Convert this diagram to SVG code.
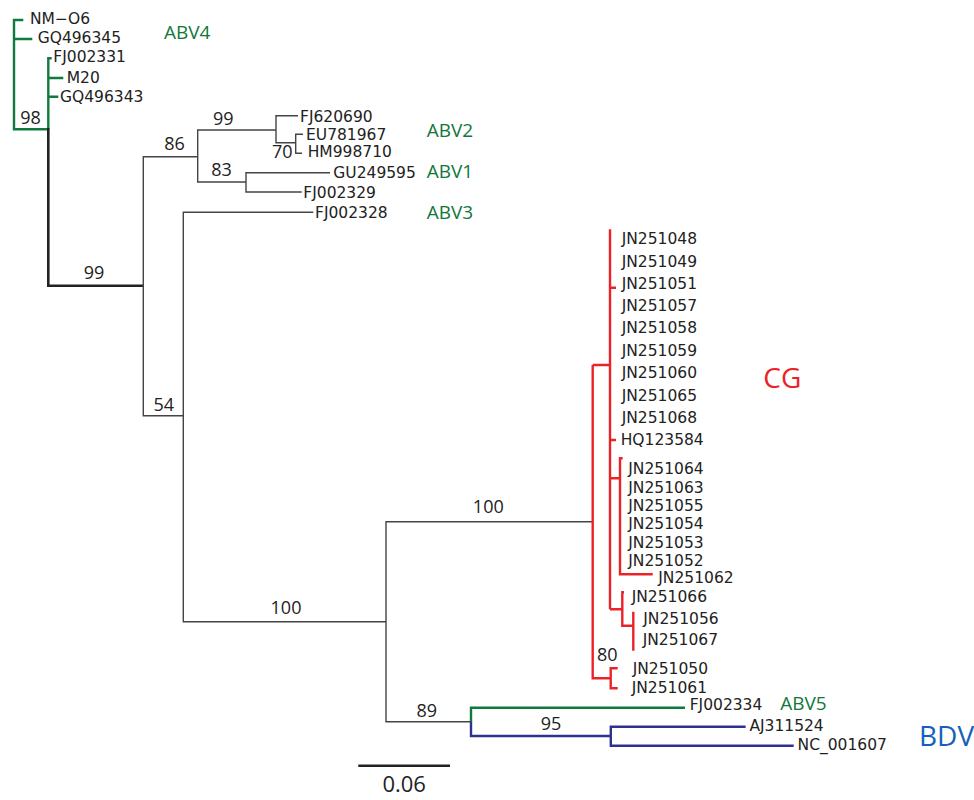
<svg xmlns="http://www.w3.org/2000/svg" width="974" height="800" viewBox="0 0 974 800">
<style>
.bg{fill:#fff}
.t{font-family:"DejaVu Sans",Verdana,sans-serif;font-size:15.5px;fill:#222}
.n{font-family:"Open Sans","Liberation Sans",sans-serif;font-size:18px;fill:#222;text-anchor:middle}
.g{font-family:"Open Sans","Liberation Sans",sans-serif;font-size:19px;fill:#12773b}
.k{fill:none;stroke:#444;stroke-width:1.4}
.kk{fill:none;stroke:#222;stroke-width:2.6}
.gr{fill:none;stroke:#0f7a3c;stroke-width:2.4}
.rd{fill:none;stroke:#ec2229;stroke-width:2.4}
.bl{fill:none;stroke:#2e3192;stroke-width:2.4}
</style>
<rect class="bg" x="0" y="0" width="974" height="800"/>
<g id="connectors">
<path class="gr" d="M23.3,20H14V129.3H48.3M14,39H32.3M51.7,58.3H48.3V129.3M48.3,78H63.3M48.3,96.7H58.3"/>
<path class="kk" d="M48.3,128V285.7H143.3"/>
<path class="k" d="M143.3,285.7V156.7H197.7M143.3,285.7V415.7H183.3"/>
<path class="k" d="M276,130H197.7V182H246M298,115.7H276V142.7H295.7M303,134.3H295.7V153.3H302"/>
<path class="k" d="M330,172.7H246V192H301.7"/>
<path class="k" d="M313.3,212.3H183.3V621.7H386M592.7,521.7H386V721.7H471"/>
<path class="gr" d="M471,722V707.7H685"/>
<path class="bl" d="M471,721.7V736H610.8M745.6,726.7H610.8V745.7H793.7"/>
<path class="rd" d="M610,229.3V609.3M592.7,365H610M610,287.7H616M610,440H616"/>
<path class="rd" d="M610,478.3H620M622.7,458.3H620V574.3H652.7"/>
<path class="rd" d="M610,609.3H622.3M624,592.3H622.3V625.7H633.3M633.3,611.7V650.7"/>
<path class="rd" d="M592.7,365V678.3H610.7M617.7,668.3H610.7V688.3H617.7"/>
<path class="kk" d="M358.3,765.7H450" stroke-width="3"/>
</g>
<g id="leaf-NM-O6"><text class="t" x="30" y="24">NM−O6</text></g>
<g id="leaf-GQ496345"><text class="t" x="37.7" y="43.3">GQ496345</text></g>
<g id="leaf-FJ002331"><text class="t" x="53.3" y="62.3">FJ002331</text></g>
<g id="leaf-M20"><text class="t" x="66.7" y="82.7">M20</text></g>
<g id="leaf-GQ496343"><text class="t" x="60" y="101.7">GQ496343</text></g>
<g id="leaf-FJ620690"><text class="t" x="300" y="121.7">FJ620690</text></g>
<g id="leaf-EU781967"><text class="t" x="306" y="140">EU781967</text></g>
<g id="leaf-HM998710"><text class="t" x="307.7" y="156.7">HM998710</text></g>
<g id="leaf-GU249595"><text class="t" x="333.3" y="177.7">GU249595</text></g>
<g id="leaf-FJ002329"><text class="t" x="303.3" y="197.7">FJ002329</text></g>
<g id="leaf-FJ002328"><text class="t" x="315" y="218.3">FJ002328</text></g>
<g id="leaf-JN251048"><text class="t" x="621.7" y="244.3">JN251048</text></g>
<g id="leaf-JN251049"><text class="t" x="621.7" y="266.7">JN251049</text></g>
<g id="leaf-JN251051"><text class="t" x="621.7" y="288.7">JN251051</text></g>
<g id="leaf-JN251057"><text class="t" x="621.7" y="311">JN251057</text></g>
<g id="leaf-JN251058"><text class="t" x="621.7" y="333.3">JN251058</text></g>
<g id="leaf-JN251059"><text class="t" x="621.7" y="356">JN251059</text></g>
<g id="leaf-JN251060"><text class="t" x="621.7" y="378.3">JN251060</text></g>
<g id="leaf-JN251065"><text class="t" x="621.7" y="401">JN251065</text></g>
<g id="leaf-JN251068"><text class="t" x="621.7" y="423.3">JN251068</text></g>
<g id="leaf-HQ123584"><text class="t" x="620.7" y="445.3">HQ123584</text></g>
<g id="leaf-JN251064"><text class="t" x="628.3" y="474.3">JN251064</text></g>
<g id="leaf-JN251063"><text class="t" x="628.3" y="492.7">JN251063</text></g>
<g id="leaf-JN251055"><text class="t" x="628.3" y="511">JN251055</text></g>
<g id="leaf-JN251054"><text class="t" x="628.3" y="529.3">JN251054</text></g>
<g id="leaf-JN251053"><text class="t" x="628.3" y="547.7">JN251053</text></g>
<g id="leaf-JN251052"><text class="t" x="628.3" y="566">JN251052</text></g>
<g id="leaf-JN251062"><text class="t" x="658.3" y="582.7">JN251062</text></g>
<g id="leaf-JN251066"><text class="t" x="631.7" y="602">JN251066</text></g>
<g id="leaf-JN251056"><text class="t" x="643.3" y="624.3">JN251056</text></g>
<g id="leaf-JN251067"><text class="t" x="642.7" y="645.3">JN251067</text></g>
<g id="leaf-JN251050"><text class="t" x="632.7" y="673.7">JN251050</text></g>
<g id="leaf-JN251061"><text class="t" x="631.7" y="692.7">JN251061</text></g>
<g id="leaf-FJ002334"><text class="t" x="689.7" y="710">FJ002334</text></g>
<g id="leaf-AJ311524"><text class="t" x="749.4" y="731">AJ311524</text></g>
<g id="leaf-NC_001607"><text class="t" x="797.6" y="750">NC_001607</text></g>
<g id="support-values">
<text class="n" x="30.5" y="124">98</text>
<text class="n" x="94" y="279.3">99</text>
<text class="n" x="174.5" y="150">86</text>
<text class="n" x="223.3" y="125">99</text>
<text class="n" x="221.5" y="176">83</text>
<text class="n" x="282.3" y="158.3">70</text>
<text class="n" x="163.7" y="410.7">54</text>
<text class="n" x="488.3" y="513.3">100</text>
<text class="n" x="286" y="614">100</text>
<text class="n" x="607.2" y="660.7">80</text>
<text class="n" x="426.7" y="716.7">89</text>
<text class="n" x="551" y="730">95</text>
</g>
<g id="group-ABV4"><text class="g" x="164" y="39.3">ABV4</text></g>
<g id="group-ABV2"><text class="g" x="426.7" y="136.7">ABV2</text></g>
<g id="group-ABV1"><text class="g" x="426.7" y="178.3">ABV1</text></g>
<g id="group-ABV3"><text class="g" x="426.7" y="219">ABV3</text></g>
<g id="group-ABV5"><text class="g" x="780.2" y="709.5">ABV5</text></g>
<g id="group-CG"><text x="763.3" y="388.3" style="font-family:'Open Sans','Liberation Sans',sans-serif;font-size:28px;fill:#ec2229">CG</text></g>
<g id="group-BDV"><text x="919" y="746" style="font-family:'Open Sans','Liberation Sans',sans-serif;font-size:28px;fill:#1560b8">BDV</text></g>
<g id="scale-bar"><text x="404.2" y="792" text-anchor="middle" style="font-family:'Open Sans','Liberation Sans',sans-serif;font-size:22px;fill:#222">0.06</text></g>
</svg>
